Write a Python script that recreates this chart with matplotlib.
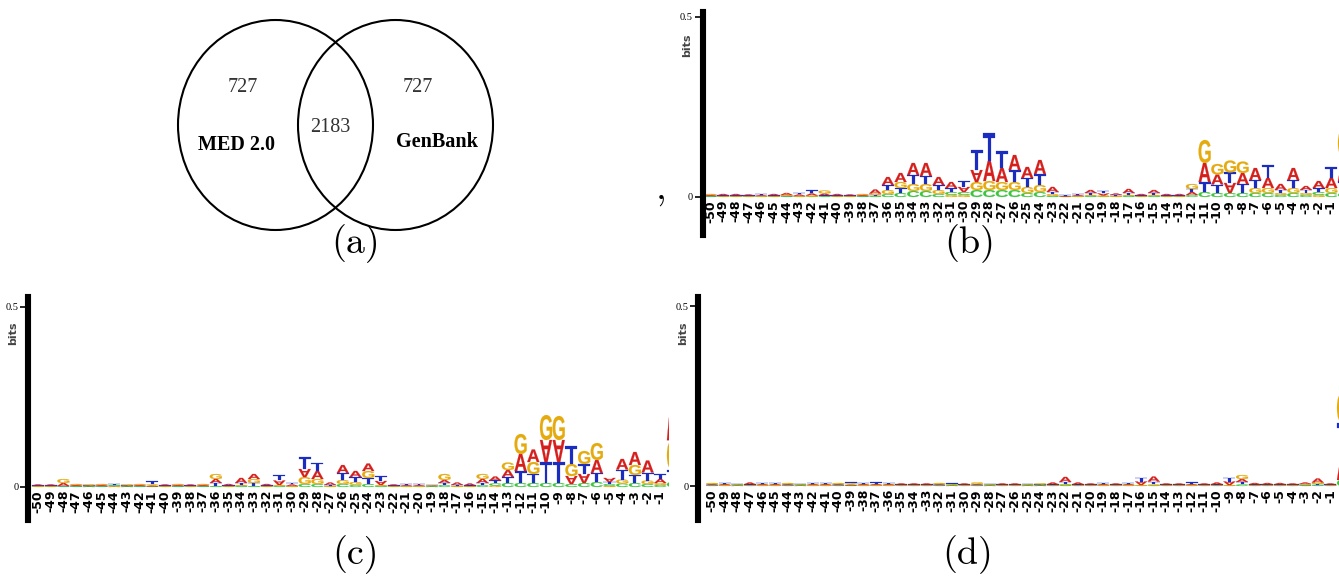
import matplotlib
matplotlib.use('Agg')
import matplotlib.pyplot as plt
from matplotlib.patches import Ellipse, PathPatch
from matplotlib.textpath import TextPath
from matplotlib.font_manager import FontProperties
import matplotlib.transforms as mtransforms

# ---------------- data ----------------
venn_labels = ['MED 2.0', 'GenBank']
venn_counts = [727, 2183, 727]          # only MED, both, only GenBank

positions = list(range(-50, 0)) + [1]    # last column is cut by the image edge
tick_labels = [str(p) for p in range(-50, 0)]

# information content (bits) per letter, panel (b)
b_A = [.0028, .0042, .0042, .0028, .0028, .0042, .0056, .0042, .0056, .0056,
       .0042, .0028, .0028, .0111, .0222, .0250, .0333, .0361, .0222, .0167,
       .0139, .0333, .0556, .0389, .0417, .0306, .0389, .0139, .0014, .0028,
       .0083, .0056, .0042, .0111, .0042, .0083, .0042, .0042, .0083, .0528,
       .0278, .0278, .0306, .0333, .0278, .0167, .0333, .0111, .0194, .0278,
       .0667]
b_C = [.0014, .0014, .0014, .0014, .0014, .0014, .0014, .0014, .0014, .0014,
       .0014, .0014, .0014, .0028, .0083, .0111, .0167, .0167, .0083, .0083,
       .0083, .0194, .0194, .0194, .0194, .0111, .0139, .0028, .0008, .0014,
       .0028, .0014, .0014, .0028, .0014, .0028, .0014, .0014, .0056, .0139,
       .0111, .0111, .0111, .0111, .0111, .0056, .0111, .0056, .0083, .0111,
       .0111]
b_G = [.0028, .0014, .0014, .0014, .0014, .0014, .0028, .0014, .0028, .0083,
       .0014, .0014, .0028, .0042, .0111, .0167, .0194, .0194, .0111, .0056,
       .0056, .0222, .0250, .0222, .0222, .0167, .0194, .0056, .0008, .0014,
       .0028, .0028, .0014, .0028, .0014, .0028, .0014, .0014, .0139, .0639,
       .0292, .0333, .0319, .0139, .0139, .0056, .0139, .0056, .0056, .0139,
       .0778]
b_T = [.0014, .0014, .0014, .0014, .0028, .0014, .0014, .0042, .0083, .0028,
       .0014, .0014, .0014, .0028, .0139, .0139, .0250, .0222, .0139, .0111,
       .0153, .0556, .0778, .0472, .0333, .0250, .0306, .0056, .0014, .0028,
       .0056, .0069, .0028, .0056, .0014, .0056, .0014, .0014, .0083, .0278,
       .0236, .0292, .0250, .0222, .0361, .0083, .0222, .0083, .0111, .0306,
       .0333]
b_flipped_A = [-30, -29, -19, -9]

# panel (c)
c_A = [.0028, .0028, .0083, .0028, .0014, .0028, .0014, .0014, .0028, .0028,
       .0028, .0028, .0028, .0028, .0111, .0042, .0139, .0139, .0042, .0125,
       .0042, .0222, .0222, .0069, .0222, .0167, .0208, .0111, .0028, .0028,
       .0028, .0014, .0083, .0069, .0056, .0111, .0111, .0194, .0472, .0347,
       .0611, .0611, .0222, .0250, .0361, .0111, .0292, .0361, .0333, .0111,
       .1390]
c_C = [.0014, .0014, .0014, .0014, .0014, .0014, .0028, .0014, .0014, .0014,
       .0014, .0014, .0014, .0014, .0028, .0014, .0028, .0028, .0014, .0028,
       .0014, .0083, .0083, .0014, .0083, .0056, .0083, .0028, .0014, .0014,
       .0014, .0014, .0056, .0014, .0014, .0056, .0056, .0111, .0111, .0111,
       .0111, .0111, .0083, .0111, .0139, .0056, .0097, .0111, .0083, .0056,
       .0139]
c_G = [.0014, .0014, .0111, .0028, .0028, .0028, .0014, .0028, .0028, .0028,
       .0014, .0028, .0014, .0028, .0139, .0014, .0028, .0111, .0014, .0028,
       .0014, .0194, .0139, .0014, .0111, .0083, .0194, .0028, .0014, .0014,
       .0014, .0014, .0167, .0014, .0014, .0139, .0042, .0208, .0556, .0333,
       .0694, .0667, .0333, .0361, .0472, .0028, .0111, .0278, .0097, .0056,
       .0830]
c_T = [.0014, .0014, .0014, .0014, .0014, .0014, .0028, .0014, .0014, .0083,
       .0014, .0014, .0014, .0014, .0083, .0014, .0056, .0083, .0014, .0139,
       .0042, .0333, .0236, .0028, .0194, .0139, .0167, .0125, .0014, .0028,
       .0028, .0014, .0056, .0028, .0014, .0056, .0083, .0167, .0333, .0250,
       .0583, .0583, .0500, .0278, .0250, .0056, .0278, .0222, .0222, .0125,
       .0330]
c_flipped_A = [-31, -29, -23, -10, -9, -8, -7, -5]

# panel (d)
d_A = [.0028, .0028, .0014, .0056, .0028, .0028, .0028, .0014, .0028, .0028,
       .0028, .0028, .0028, .0028, .0028, .0028, .0028, .0028, .0028, .0014,
       .0028, .0028, .0014, .0028, .0028, .0014, .0014, .0056, .0139, .0056,
       .0028, .0028, .0028, .0028, .0097, .0139, .0028, .0028, .0028, .0028,
       .0056, .0097, .0083, .0042, .0042, .0042, .0028, .0042, .0111, .0028,
       .0778]
d_C = [.0014, .0014, .0014, .0014, .0014, .0014, .0014, .0014, .0014, .0014,
       .0014, .0014, .0014, .0014, .0014, .0014, .0014, .0014, .0014, .0014,
       .0014, .0014, .0014, .0014, .0014, .0014, .0014, .0014, .0028, .0014,
       .0014, .0014, .0014, .0014, .0014, .0014, .0014, .0014, .0014, .0014,
       .0014, .0014, .0042, .0014, .0014, .0014, .0014, .0014, .0028, .0014,
       .0167]
d_G = [.0028, .0014, .0014, .0014, .0014, .0014, .0028, .0014, .0014, .0014,
       .0028, .0028, .0014, .0014, .0014, .0014, .0014, .0014, .0028, .0014,
       .0014, .0042, .0014, .0014, .0014, .0014, .0028, .0014, .0028, .0014,
       .0014, .0014, .0014, .0014, .0014, .0028, .0014, .0014, .0014, .0014,
       .0014, .0014, .0111, .0014, .0014, .0014, .0014, .0028, .0042, .0014,
       .0833]
d_T = [.0014, .0028, .0014, .0014, .0028, .0028, .0014, .0014, .0028, .0028,
       .0014, .0028, .0028, .0042, .0028, .0014, .0014, .0014, .0014, .0028,
       .0014, .0014, .0014, .0014, .0014, .0014, .0014, .0014, .0056, .0014,
       .0014, .0028, .0014, .0028, .0111, .0083, .0014, .0014, .0042, .0014,
       .0014, .0111, .0069, .0014, .0014, .0014, .0014, .0014, .0028, .0014,
       .0806]
d_flipped_A = [-16, -9]

# ---------------- drawing ----------------
W, H = 1339, 576
fig = plt.figure(figsize=(W / 100, H / 100), dpi=100)
fig.patch.set_facecolor('white')

COLORS = {'A': '#d41f1c', 'C': '#3ec43e', 'G': '#e4aa0e', 'T': '#1a2dbf'}
LETTER_FP = FontProperties(family='Liberation Sans', weight='bold')
_glyphs = {}


def glyph(ch):
    if ch not in _glyphs:
        p = TextPath((0, 0), ch, size=1, prop=LETTER_FP)
        _glyphs[ch] = (p, p.get_extents())
    return _glyphs[ch]


def draw_letter(ax, ch, xc, y0, h, w, flip):
    p, ext = glyph(ch)
    t = mtransforms.Affine2D().translate(-ext.x0, -ext.y0).scale(w / ext.width, h / ext.height)
    if flip:
        t = t.scale(1, -1).translate(0, h)
    t = t.translate(xc - w / 2, y0)
    ax.add_patch(PathPatch(t.transform_path(p), facecolor=COLORS[ch],
                           edgecolor=COLORS[ch], lw=0.15))


# overlay axes in pixel coordinates
ov = fig.add_axes([0, 0, 1, 1])
ov.set_xlim(0, W)
ov.set_ylim(H, 0)
ov.axis('off')

# Venn diagram
ov.add_patch(Ellipse((275.5, 125), 195, 210, fill=False, lw=1.5, ec='black'))
ov.add_patch(Ellipse((395.5, 125), 195, 210, fill=False, lw=1.5, ec='black'))
serif = 'Liberation Serif'
ov.text(243, 88, str(venn_counts[0]), ha='center', va='center', fontsize=14.5,
        family=serif, color='#333333')
ov.text(330, 127, str(venn_counts[1]), ha='center', va='center', fontsize=14.5,
        family=serif, color='#333333')
ov.text(418, 88, str(venn_counts[2]), ha='center', va='center', fontsize=14.5,
        family=serif, color='#333333')
ov.text(237, 145, venn_labels[0], ha='center', va='center', fontsize=14.5,
        family=serif, fontweight='bold', color='black')
ov.text(437, 142, venn_labels[1], ha='center', va='center', fontsize=14.5,
        family=serif, fontweight='bold', color='black')

# panel captions
for lab, (x, y) in zip(['(a)', '(b)', '(c)', '(d)'],
                       [(356, 244), (970, 244), (356, 555), (968, 555)]):
    ov.text(x, y, lab, ha='center', va='center', fontsize=27.5, family='cmr10')
ov.text(661, 199, ',', ha='center', va='baseline', fontsize=27.5, family='cmr10')

PX_PER_BIT = 360.0


def draw_logo(rect, x0, dx, base, A, C, G, T, flipped, bits_xy):
    left, top, right, bottom = rect
    ax = fig.add_axes([left / W, 1 - bottom / H, (right - left) / W, (bottom - top) / H])
    ax.set_facecolor('none')
    ax.set_xlim((left - x0) / dx, (right - x0) / dx)
    ax.set_ylim(-(bottom - base) / PX_PER_BIT, (base - top) / PX_PER_BIT)
    for s in ['top', 'right', 'bottom']:
        ax.spines[s].set_visible(False)
    ax.spines['left'].set_linewidth(4.4)
    ax.spines['left'].set_color('black')
    ax.set_xticks([])
    ax.set_yticks([0, 0.5])
    ax.set_yticklabels(['0', '0.5'], fontfamily=serif, fontsize=7.5)
    ax.tick_params(axis='y', length=6, width=1.2, pad=1, direction='out')
    width = 0.95
    for i, pos in enumerate(positions):
        stack = sorted(zip([A[i], C[i], G[i], T[i]], 'ACGT'))
        y = 0.0
        for h, ch in stack:
            draw_letter(ax, ch, i, y, h, width, ch == 'A' and pos in flipped)
            y += h
    for i, lab in enumerate(tick_labels):
        ax.text(i, -3 / PX_PER_BIT, lab, rotation=90, ha='center', va='top',
                fontsize=9, fontweight='bold', family='DejaVu Sans', clip_on=True)
    ov.text(bits_xy[0], bits_xy[1], 'bits', rotation=90, ha='center', va='center',
            fontsize=8, fontweight='bold', family='DejaVu Sans', color='#444444')
    return ax


draw_logo((702.5, 12, 1339, 235), 710.5, 12.67, 197, b_A, b_C, b_G, b_T, b_flipped_A, (687, 45))
draw_logo((28, 297, 669, 520), 38, 12.70, 487, c_A, c_C, c_G, c_T, c_flipped_A, (13, 333))
draw_logo((698, 297, 1339, 520), 712, 12.62, 486, d_A, d_C, d_G, d_T, d_flipped_A, (683, 333))

fig.savefig('out.png', dpi=100, facecolor='white')
